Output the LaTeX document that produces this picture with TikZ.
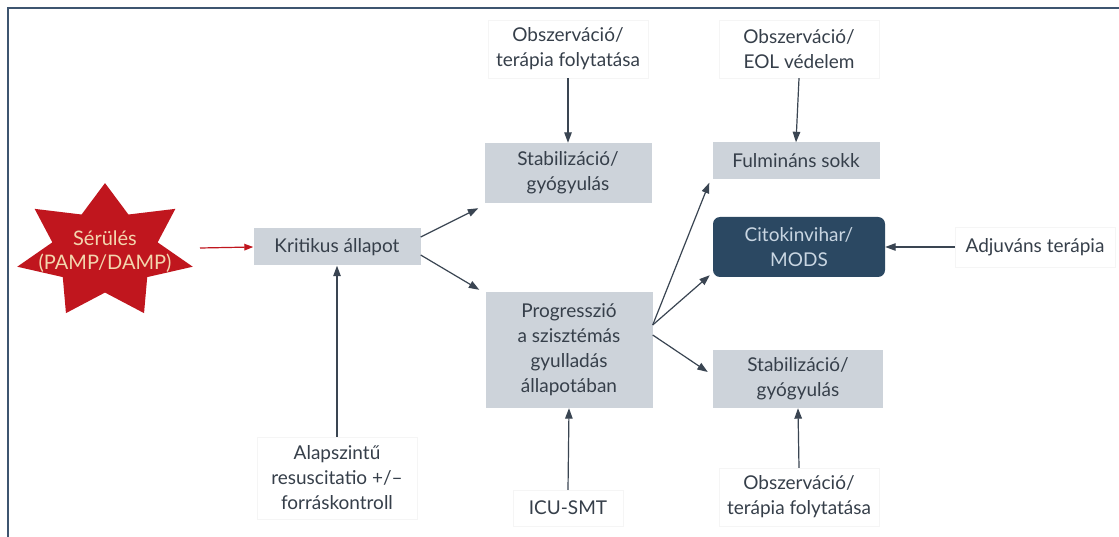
\documentclass[tikz,border=0pt]{standalone}
\usepackage{fontspec}
\setmainfont{Lato}
\usetikzlibrary{arrows.meta}
\definecolor{frameblue}{HTML}{3E5570}
\definecolor{boxgray}{HTML}{CDD3DA}
\definecolor{txtdark}{HTML}{363F4A}
\definecolor{arrowgray}{HTML}{3A4552}
\definecolor{starred}{HTML}{C0161E}
\definecolor{starcream}{HTML}{F3D6AE}
\definecolor{stormblue}{HTML}{2B4862}
\definecolor{stormtext}{HTML}{C9D6E2}
\tikzset{
  base/.style={font=\fontsize{19}{25}\selectfont, text=txtdark, align=center, inner sep=0pt},
  graybox/.style={base, fill=boxgray, minimum width=167pt},
  darkbox/.style={base, fill=stormblue, text=stormtext, rounded corners=7pt, minimum width=172pt, minimum height=60pt},
  whitebox/.style={base, fill=white, draw=black!4, minimum height=44pt},
  flow/.style={draw=arrowgray, line width=1.2pt, -{Triangle[length=10.5pt,width=7.5pt]}},
  redflow/.style={draw=starred, line width=1.2pt, -{Triangle[length=9pt,width=6.5pt]}}
}
\begin{document}
\begin{tikzpicture}[x=1pt,y=-1pt]
\useasboundingbox (0,0) rectangle (1119,537);
\fill[white] (0,0) rectangle (1119,537);
% outer frame (open to the right and bottom)
\draw[frameblue, line width=1.6pt] (8,537) -- (8,8) -- (1119,8);

% seven-pointed star
\fill[starred] plot[samples at={0,...,13}, variable=\k]
  ({105 + 90*(mod(\k,2)==0 ? 1 : 0.6)*cos(90 + \k*360/14)},
   {251.5 - 68.4*(mod(\k,2)==0 ? 1 : 0.6)*sin(90 + \k*360/14)}) -- cycle;
\node[base, text=starcream, font=\fontsize{20}{24}\selectfont] (injury) at (105,252) {Sérülés\\(PAMP/DAMP)};
\coordinate (injuryR) at (200,248);

% gray state boxes
\node[graybox, minimum height=37pt] (crit) at (337,247) {Kritikus állapot};
\node[graybox, minimum height=60pt] (stab1) at (568,173) {Stabilizáció/\\gyógyulás};
\node[graybox, minimum height=116pt] (prog) at (569,350) {Progresszió\\a szisztémás\\gyulladás\\állapotában};
\node[graybox, minimum height=37pt] (fulm) at (796,161) {Fulmináns sokk};
\node[darkbox] (storm) at (799,247) {Citokinvihar/\\MODS};
\node[graybox, minimum width=170pt, minimum height=58pt] (stab2) at (798,379) {Stabilizáció/\\gyógyulás};

% intervention labels
\node[whitebox, minimum width=160pt, minimum height=58pt] (obs1) at (568,49) {Obszerváció/\\terápia folytatása};
\node[whitebox, minimum width=160pt, minimum height=58pt] (obs2) at (799,49) {Obszerváció/\\EOL védelem};
\node[whitebox, minimum width=160pt, minimum height=40pt] (adj) at (1035,247) {Adjuváns terápia};
\node[whitebox, minimum width=160pt, minimum height=82pt] (basic) at (337,478) {Alapszintű\\resuscitatio +/–\\forráskontroll};
\node[whitebox, minimum width=110pt, minimum height=36pt] (icu) at (568,508) {ICU-SMT};
\node[whitebox, minimum width=160pt, minimum height=58pt] (obs3) at (799,497) {Obszerváció/\\terápia folytatása};

% connectors
\draw[redflow] (injuryR) -- (crit.west);
\draw[flow] ([yshift=10pt]crit.east) -- ([xshift=-6pt,yshift=-5pt]stab1.south west);
\draw[flow] ([yshift=-8pt]crit.east) -- ([xshift=-6pt,yshift=2pt]prog.north west);
\draw[flow] (basic.north -| crit.south) -- (crit.south);
\draw[flow] (obs1.south) -- (stab1.north);
\draw[flow] (icu.north) -- (prog.south);
\coordinate (fan) at ([yshift=25pt]prog.east);
\draw[flow] (fan) -- ([xshift=-3pt,yshift=-3pt]fulm.south west);
\draw[flow] (fan) -- ([xshift=-3pt,yshift=2pt]storm.south west);
\draw[flow] ([yshift=15pt]prog.east) -- ([xshift=-5pt,yshift=7pt]stab2.west);
\draw[flow] (obs2.south) -- (fulm.north);
\draw[flow] (adj.west) -- (storm.east);
\draw[flow] (obs3.north) -- (stab2.south);
\end{tikzpicture}
\end{document}
